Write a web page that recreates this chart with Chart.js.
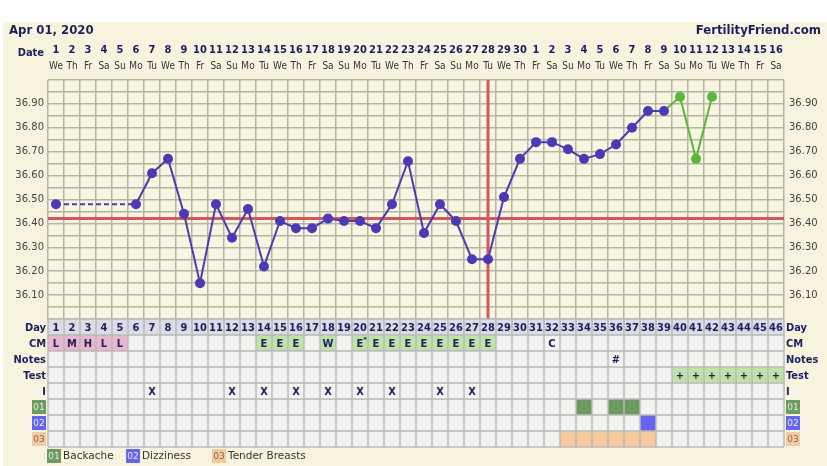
<!DOCTYPE html>
<html>
<head>
<meta charset="utf-8">
<script src="https://cdn.jsdelivr.net/npm/chart.js@4"></script>
<style>
html, body { margin: 0; padding: 0; background: #fff; }
</style>
</head>
<body>
<canvas id="bbtChart" width="827" height="466"></canvas>
<script>
// Chart data
const chartDate = "Apr 01, 2020";
const siteName = "FertilityFriend.com";
const cycleDays = [1, 2, 3, 4, 5, 6, 7, 8, 9, 10, 11, 12, 13, 14, 15, 16, 17, 18, 19, 20, 21, 22, 23,
    24, 25, 26, 27, 28, 29, 30, 31, 32, 33, 34, 35, 36, 37, 38, 39, 40, 41, 42, 43, 44, 45, 46];
const dateLabels = ["1", "2", "3", "4", "5", "6", "7", "8", "9", "10", "11", "12", "13", "14", "15",
    "16", "17", "18", "19", "20", "21", "22", "23", "24", "25", "26", "27", "28", "29", "30",
    "1", "2", "3", "4", "5", "6", "7", "8", "9", "10", "11", "12", "13", "14", "15", "16"];
const weekdays = ["We", "Th", "Fr", "Sa", "Su", "Mo", "Tu", "We", "Th", "Fr", "Sa", "Su", "Mo", "Tu",
    "We", "Th", "Fr", "Sa", "Su", "Mo", "Tu", "We", "Th", "Fr", "Sa", "Su", "Mo", "Tu", "We", "Th",
    "Fr", "Sa", "Su", "Mo", "Tu", "We", "Th", "Fr", "Sa", "Su", "Mo", "Tu", "We", "Th", "Fr", "Sa"];
// Temperatures (blue = recorded, green = after charting ended)
const temps = [36.48, null, null, null, null, 36.48, 36.61, 36.67, 36.44, 36.15, 36.48, 36.34,
    36.46, 36.22, 36.41, 36.38, 36.38, 36.42, 36.41, 36.41, 36.38, 36.48, 36.66, 36.36, 36.48,
    36.41, 36.25, 36.25, 36.51, 36.67, 36.74, 36.74, 36.71, 36.67, 36.69, 36.73, 36.80, 36.87,
    36.87, null, null, null, null, null, null, null];
const extraTemps = [null, null, null, null, null, null, null, null, null, null, null, null, null,
    null, null, null, null, null, null, null, null, null, null, null, null, null, null, null, null,
    null, null, null, null, null, null, null, null, null, 36.87, 36.93, 36.67, 36.93, null, null,
    null, null];
const coverline = 36.42;
const ovulationDay = 28;
// Table rows
const rowLabels = ["Day", "CM", "Notes", "Test", "I"];
const cmEntries = [[1, "L"], [2, "M"], [3, "H"], [4, "L"], [5, "L"], [14, "E"], [15, "E"], [16, "E"],
    [18, "W"], [20, "E*"], [21, "E"], [22, "E"], [23, "E"], [24, "E"], [25, "E"], [26, "E"],
    [27, "E"], [28, "E"], [32, "C"]];
const noteEntries = [[36, "#"]];
const testEntries = [[40, "+"], [41, "+"], [42, "+"], [43, "+"], [44, "+"], [45, "+"], [46, "+"]];
const intercourseDays = [7, 12, 14, 16, 18, 20, 22, 25, 27];
const symptomCodes = ["01", "02", "03"];
const symptomNames = ["Backache", "Dizziness", "Tender Breasts"];
const symptomDays = [[34, 36, 37], [38], [33, 34, 35, 36, 37, 38]];

// Colours
const NAVY = "#1b1f5e";
const CREAM = "#f8f3df";
const GRID = "#b8b4a2";
const symptomColors = ["#6b9b62", "#6464ee", "#f6c9a0"];
const symptomText = ["#e4eee0", "#e8e8ff", "#8a6a4a"];
const cmColors = { L: "#e9b6cb", M: "#e9b6cb", H: "#e9b6cb", E: "#bde3a8", "E*": "#bde3a8", W: "#bde3a8" };

const tempLabel = (v) => {
    const h = Math.round(v * 100);
    return (h % 10 === 0 && h >= 3610 && h <= 3690) ? (h / 100).toFixed(2) : "";
};

// Background, title texts, coverline and ovulation line
const backgroundPlugin = {
    id: "background",
    beforeDraw(chart) {
        const c = chart.ctx, a = chart.chartArea;
        c.save();
        c.fillStyle = "#fff";
        c.fillRect(0, 0, chart.width, chart.height);
        c.fillStyle = CREAM;
        c.fillRect(3, 22, chart.width - 3, chart.height - 22);
        c.fillStyle = "#f9f5e3";
        c.fillRect(a.left, a.top, a.right - a.left, a.bottom - a.top);
        c.fillStyle = NAVY;
        c.font = "bold 13px 'DejaVu Sans Condensed'";
        c.textBaseline = "middle";
        c.textAlign = "left";
        c.fillText(chartDate, 9, 31);
        c.textAlign = "right";
        c.fillText(siteName, 821, 31);
        c.font = "bold 11px 'DejaVu Sans Condensed'";
        c.fillText("Date", 44, 53);
        c.restore();
    },
    beforeDatasetsDraw(chart) {
        const c = chart.ctx, a = chart.chartArea;
        const y = chart.scales.y.getPixelForValue(coverline);
        const x = chart.scales.x.getPixelForValue(cycleDays.indexOf(ovulationDay));
        c.save();
        c.strokeStyle = "#d05a5a";
        c.lineWidth = 3;
        c.beginPath();
        c.moveTo(a.left, y);
        c.lineTo(a.right, y);
        c.moveTo(x, a.top);
        c.lineTo(x, a.bottom);
        c.stroke();
        c.restore();
    }
};

// Table of observations under the chart
const tablePlugin = {
    id: "fertilityTable",
    afterDraw(chart) {
        const c = chart.ctx, a = chart.chartArea, x = chart.scales.x;
        const cellW = x.width / cycleDays.length;
        const rowH = 16;
        const rows = rowLabels.length + symptomCodes.length;
        const top = a.bottom;
        const cellLeft = (day) => x.getPixelForValue(cycleDays.indexOf(day)) - cellW / 2;
        const cellMid = (day) => x.getPixelForValue(cycleDays.indexOf(day));
        const rowTop = (r) => top + r * rowH;
        c.save();
        // row backgrounds
        for (let r = 0; r < rows; r++) {
            c.fillStyle = r === 0 ? "#dcdce4" : "#f2f2f0";
            c.fillRect(a.left, rowTop(r), a.right - a.left, rowH);
        }
        // coloured cells
        cmEntries.forEach(([d, code]) => {
            if (cmColors[code]) {
                c.fillStyle = cmColors[code];
                c.fillRect(cellLeft(d), rowTop(1), cellW, rowH);
            }
        });
        testEntries.forEach(([d]) => {
            c.fillStyle = "#bde3a8";
            c.fillRect(cellLeft(d), rowTop(3), cellW, rowH);
        });
        symptomDays.forEach((list, s) => {
            c.fillStyle = symptomColors[s];
            list.forEach(d => c.fillRect(cellLeft(d), rowTop(5 + s), cellW, rowH));
        });
        // grid
        c.strokeStyle = "#b9b9b9";
        c.lineWidth = 1.5;
        c.beginPath();
        for (let r = 0; r <= rows; r++) {
            c.moveTo(a.left, rowTop(r));
            c.lineTo(a.right, rowTop(r));
        }
        for (let i = 0; i <= cycleDays.length; i++) {
            const gx = a.left + i * cellW;
            c.moveTo(gx, top);
            c.lineTo(gx, rowTop(rows));
        }
        c.stroke();
        // cell texts
        c.fillStyle = NAVY;
        c.textAlign = "center";
        c.textBaseline = "middle";
        c.font = "bold 11px 'DejaVu Sans Condensed'";
        cycleDays.forEach(d => c.fillText(String(d), cellMid(d), rowTop(0) + rowH / 2 + 1));
        cmEntries.forEach(([d, code]) => c.fillText(code === "E*" ? "E" : code, cellMid(d), rowTop(1) + rowH / 2 + 1));
        cmEntries.filter(e => e[1] === "E*").forEach(([d]) => {
            c.font = "bold 7px 'DejaVu Sans'";
            c.fillText("*", cellMid(d) + 5, rowTop(1) + 5);
            c.font = "bold 11px 'DejaVu Sans Condensed'";
        });
        noteEntries.forEach(([d, t]) => c.fillText(t, cellMid(d), rowTop(2) + rowH / 2 + 1));
        testEntries.forEach(([d, t]) => c.fillText(t, cellMid(d), rowTop(3) + rowH / 2 + 1));
        intercourseDays.forEach(d => c.fillText("X", cellMid(d), rowTop(4) + rowH / 2 + 1));
        // row labels, both sides
        rowLabels.forEach((label, r) => {
            c.textAlign = "right";
            c.fillText(label, a.left - 2, rowTop(r) + rowH / 2 + 1);
            c.textAlign = "left";
            c.fillText(label, a.right + 2, rowTop(r) + rowH / 2 + 1);
        });
        const badge = (s, bx, by) => {
            c.fillStyle = symptomColors[s];
            c.fillRect(bx, by, 14, 14);
            c.fillStyle = symptomText[s];
            c.font = "9px 'DejaVu Sans'";
            c.textAlign = "center";
            c.fillText(symptomCodes[s], bx + 7, by + 7.5);
        };
        symptomCodes.forEach((code, s) => {
            badge(s, a.left - 16, rowTop(5 + s) + 1);
            badge(s, a.right + 2, rowTop(5 + s) + 1);
        });
        // legend
        const legendX = [47, 126, 212];
        symptomNames.forEach((name, s) => {
            badge(s, legendX[s], 449);
            c.fillStyle = "#333";
            c.font = "10.5px 'DejaVu Sans'";
            c.textAlign = "left";
            c.fillText(name, legendX[s] + 16, 456.5);
        });
        c.restore();
    }
};

const ctx = document.getElementById("bbtChart");
const chart = new Chart(ctx, {
    type: "line",
    data: {
        labels: dateLabels,
        datasets: [{
            data: temps,
            borderColor: "#4a3bb4",
            backgroundColor: "#4a3bb4",
            borderWidth: 2,
            pointRadius: 4,
            pointHoverRadius: 4,
            spanGaps: true,
            segment: {
                borderDash: (s) => (s.p0.skip || s.p1.skip ? [5, 3] : undefined)
            }
        }, {
            data: extraTemps,
            borderColor: "#57b83a",
            backgroundColor: "#57b83a",
            borderWidth: 2,
            pointRadius: extraTemps.map((v, i) => (temps[i] !== null ? 0 : 4)),
            pointHoverRadius: 4
        }]
    },
    options: {
        responsive: false,
        animation: false,
        layout: { padding: { top: 41, bottom: 147, left: 0, right: 0 } },
        plugins: { legend: { display: false }, tooltip: { enabled: false } },
        scales: {
            x: {
                type: "category",
                position: "top",
                weight: 2,
                offset: true,
                grid: { offset: true, color: GRID, lineWidth: 1.5, drawTicks: false },
                border: { display: false },
                ticks: {
                    autoSkip: false, maxRotation: 0, padding: 1, color: NAVY,
                    font: { family: "'DejaVu Sans Condensed'", size: 11, weight: "bold" }
                },
                afterFit: (s) => { s.height = 17; }
            },
            x2: {
                type: "category",
                position: "top",
                weight: 1,
                labels: weekdays,
                offset: true,
                grid: { display: false, drawTicks: false },
                border: { display: false },
                ticks: {
                    autoSkip: false, maxRotation: 0, padding: 8, color: "#333",
                    font: { family: "'DejaVu Sans Condensed'", size: 10 }
                },
                afterFit: (s) => { s.height = 22; }
            },
            y: {
                position: "left",
                min: 36.0,
                max: 37.0,
                grid: { color: GRID, lineWidth: 1.5, drawTicks: false },
                border: { display: false },
                ticks: {
                    stepSize: 0.05, autoSkip: false, padding: 4, color: "#444",
                    font: { family: "'DejaVu Sans'", size: 10 },
                    callback: tempLabel
                },
                afterFit: (s) => { s.width = 48; }
            },
            yR: {
                position: "right",
                min: 36.0,
                max: 37.0,
                grid: { display: false, drawTicks: false },
                border: { display: false },
                ticks: {
                    stepSize: 0.05, autoSkip: false, padding: 5, color: "#444",
                    font: { family: "'DejaVu Sans'", size: 10 },
                    callback: tempLabel
                },
                afterFit: (s) => { s.width = 43; }
            }
        }
    },
    plugins: [backgroundPlugin, tablePlugin]
});
</script>
</body>
</html>
